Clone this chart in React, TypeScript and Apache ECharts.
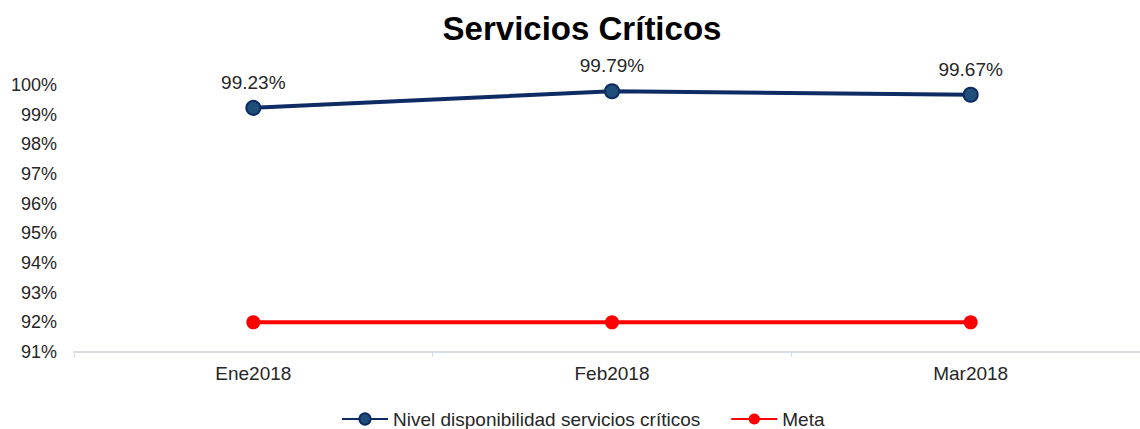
import React, { useEffect, useRef } from "react";
import * as echarts from "echarts";

const categories = ["Ene2018", "Feb2018", "Mar2018"];
const nivel = [0.9923, 0.9979, 0.9967];
const meta = [0.92, 0.92, 0.92];
const yMin = 0.91;
const yMax = 1.0;
const yInterval = 0.01;

export default function App() {
  const ref = useRef<HTMLDivElement>(null);
  useEffect(() => {
    const chart = echarts.init(ref.current!, null, { renderer: "svg" });
    const font = "'Liberation Sans', Arial, sans-serif";
    chart.setOption({
      animation: false,
      title: {
        text: "Servicios Críticos",
        left: 577,
        textAlign: "center",
        top: 7,
        textStyle: { fontFamily: font, fontWeight: "bold", fontSize: 33, color: "#000" },
      },
      grid: { left: 74, top: 85, width: 1076, height: 267, containLabel: false },
      legend: {
        top: 404,
        left: 336,
        itemWidth: 46,
        itemHeight: 14,
        itemGap: 30,
        textStyle: { fontFamily: font, fontSize: 19, color: "#262626", lineHeight: 20 },
        data: ["Nivel disponibilidad servicios críticos", "Meta"],
      },
      xAxis: {
        type: "category",
        data: categories,
        boundaryGap: true,
        axisLine: { lineStyle: { color: "#d9dde8", width: 2 } },
        axisTick: { show: true, length: 5, lineStyle: { color: "#d9dde8" } },
        axisLabel: { fontFamily: font, fontSize: 19, color: "#262626", margin: 12 },
      },
      yAxis: {
        type: "value",
        min: yMin,
        max: yMax,
        interval: yInterval,
        splitLine: { show: false },
        axisLine: { show: false },
        axisTick: { show: false },
        axisLabel: {
          fontFamily: font,
          fontSize: 18,
          color: "#262626",
          margin: 17,
          formatter: (v: number) => Math.round(v * 100) + "%",
        },
      },
      series: [
        {
          name: "Nivel disponibilidad servicios críticos",
          type: "line",
          data: nivel,
          symbol: "circle",
          symbolSize: 14,
          lineStyle: { color: "#0f2b63", width: 4 },
          itemStyle: { color: "#1f4e79", borderColor: "#0f2b63", borderWidth: 2 },
          label: {
            show: true,
            position: "top",
            distance: 8,
            fontFamily: font,
            fontSize: 19,
            color: "#262626",
            formatter: (p: any) => (p.value * 100).toFixed(2) + "%",
          },
        },
        {
          name: "Meta",
          type: "line",
          data: meta,
          symbol: "circle",
          symbolSize: 14,
          lineStyle: { color: "#ff0000", width: 4 },
          itemStyle: { color: "#ff0000" },
        },
      ],
    });
    return () => chart.dispose();
  }, []);
  return (
    <div
      ref={ref}
      style={{ position: "absolute", left: 0, top: 0, width: 1150, height: 429, background: "#fff" }}
    />
  );
}
